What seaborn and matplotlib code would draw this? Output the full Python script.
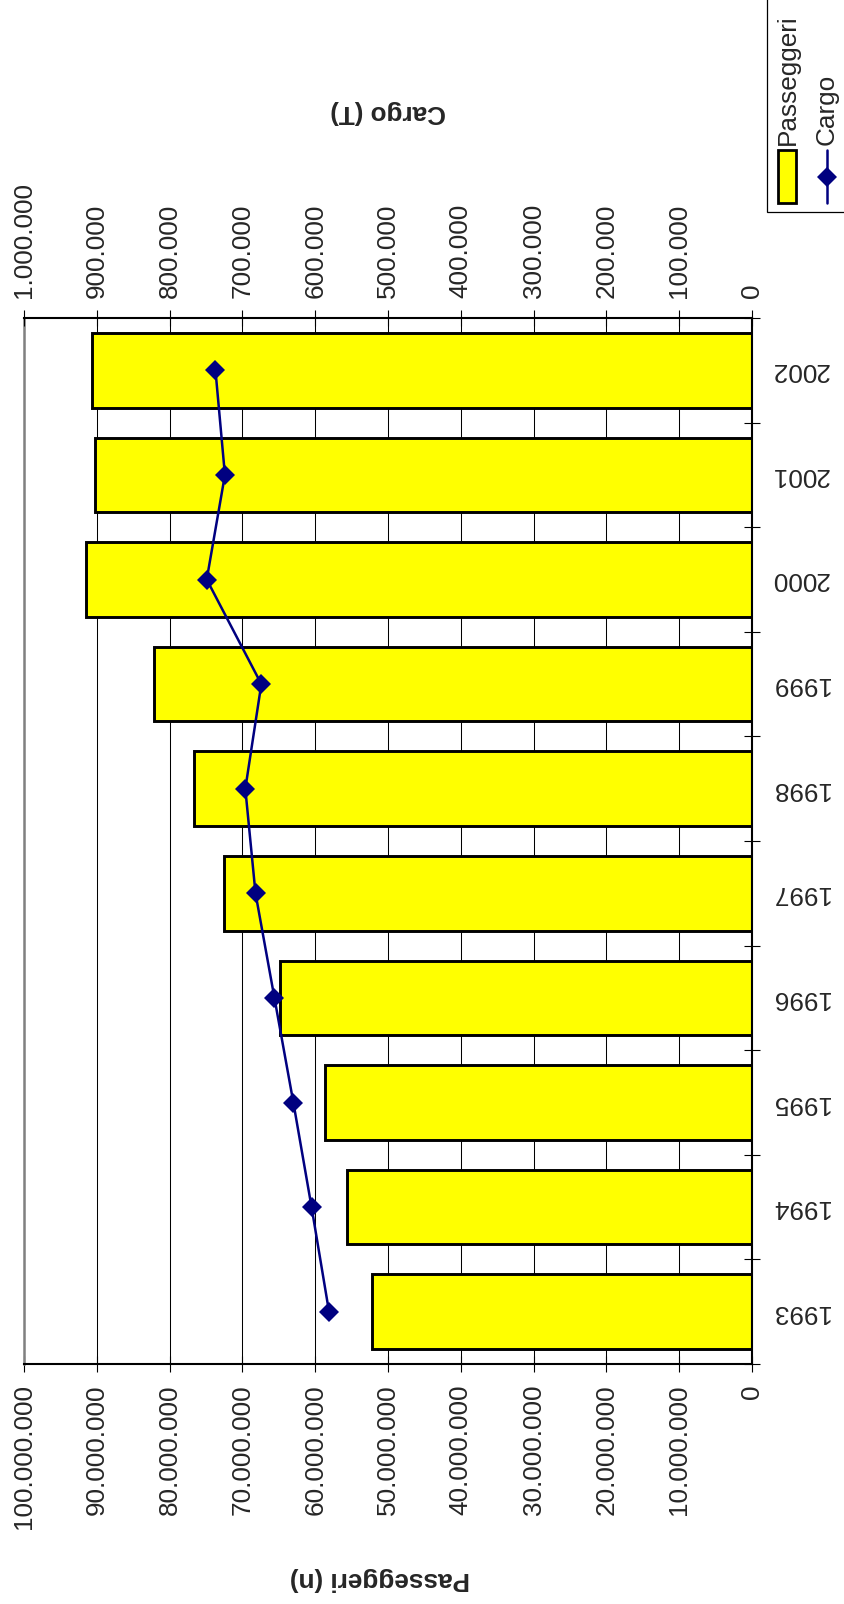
import matplotlib.pyplot as plt
import matplotlib.ticker as ticker
import numpy as np
import seaborn as sns
from matplotlib.patches import Rectangle

# values
years = ['1993', '1994', '1995', '1996', '1997', '1998', '1999', '2000', '2001', '2002']
passeggeri = [52.2e6, 55.6e6, 58.6e6, 64.8e6, 72.5e6, 76.6e6, 82.2e6, 91.5e6, 90.3e6, 90.7e6]
cargo = [581e3, 605e3, 630e3, 656e3, 682e3, 696e3, 674e3, 749e3, 724e3, 737e3]
pass_ticks = np.arange(0, 100e6 + 1, 10e6)
cargo_ticks = np.arange(0, 1e6 + 1, 100e3)

sns.set_style('white')
plt.rcParams['font.family'] = ['Liberation Sans', 'DejaVu Sans']
FS = 18.8
YELLOW = '#FFFF00'
NAVY = '#000080'


def dotted(v, pos):
    return f'{int(round(v)):,}'.replace(',', '.')


fig = plt.figure(figsize=(8.45, 16.04), dpi=100)
ax = fig.add_axes([24 / 845, 240 / 1604, 728 / 845, 1046 / 1604])

# 2002 on top, 1993 at the bottom
order = years[::-1]
sns.barplot(x=passeggeri, y=years, order=order, orient='h', color=YELLOW,
            saturation=1, edgecolor='black', linewidth=2.1, width=0.714, ax=ax)

ax.set_xlim(100e6, 0)
ax.set_ylim(9.5, -0.5)
ax.set_xticks(pass_ticks)
ax.xaxis.set_major_formatter(ticker.FuncFormatter(dotted))
ax.tick_params(axis='x', direction='inout', length=11.5, width=0.8, color='black',
               pad=9, labelsize=FS, labelrotation=90, bottom=True)
ax.grid(axis='x', color='black', linewidth=0.75)
ax.grid(axis='y', visible=False)
ax.set_axisbelow(True)

ax.yaxis.tick_right()
ax.set_yticks(range(len(order)), labels=order)
ax.set_yticks(np.arange(-0.5, len(order), 1), minor=True)
ax.tick_params(axis='y', which='major', length=0, pad=13.5, labelsize=FS, labelrotation=180)
ax.tick_params(axis='y', which='minor', direction='inout', length=12, width=0.8, color='black')
for t in ax.get_yticklabels():
    t.set_va('center')

ax.spines['left'].set_color('#808080')
ax.spines['left'].set_linewidth(1.8)
ax.spines['right'].set_color('black')
ax.spines['right'].set_linewidth(1.5)
ax.spines['bottom'].set_color('black')
ax.spines['bottom'].set_linewidth(1.5)
ax.spines['top'].set_visible(False)

ax.set_ylabel('')
ax.set_xlabel('Passeggeri (n)', fontsize=FS, fontweight='bold', rotation=180,
              va='center', ha='center')
ax.xaxis.set_label_coords(0.489, -0.206)

# cargo on the second value axis (top)
ax2 = ax.twiny()
pos = [order.index(y) for y in years]
sns.lineplot(x=cargo, y=pos, sort=False, orient='y', color=NAVY, linewidth=1.8,
             marker='D', markersize=10, markeredgewidth=0, ax=ax2)
ax2.set_xlim(1e6, 0)
ax2.set_ylim(9.5, -0.5)
ax2.set_xticks(cargo_ticks)
ax2.xaxis.set_major_formatter(ticker.FuncFormatter(dotted))
ax2.tick_params(axis='x', direction='inout', length=11.5, width=0.8, color='black',
                pad=9, labelsize=FS, labelrotation=90, top=True)
for s in ['left', 'right', 'bottom']:
    ax2.spines[s].set_visible(False)
ax2.spines['top'].set_color('black')
ax2.spines['top'].set_linewidth(1.5)
ax2.set_xlabel('Cargo (T)', fontsize=FS, fontweight='bold', rotation=180,
               va='center', ha='center')
ax2.xaxis.set_label_coords(0.5, 1.197)
ax2.set_ylabel('')

# legend, drawn sideways like the rest of the chart
lax = fig.add_axes([0, 0, 1, 1], zorder=5)
lax.set_xlim(0, 845)
lax.set_ylim(1604, 0)
lax.axis('off')
lax.add_patch(Rectangle((767, -3), 90, 215, fill=False, edgecolor='black', linewidth=0.9))
lax.add_patch(Rectangle((778, 150), 18, 53, facecolor=YELLOW, edgecolor='black', linewidth=2))
lax.plot([827, 827], [150, 203], color=NAVY, linewidth=1.8)
lax.plot([827], [177], marker='D', markersize=10, color=NAVY, markeredgewidth=0)
lax.text(788, 145, 'Passeggeri', rotation=90, ha='center', va='bottom', fontsize=FS)
lax.text(827, 145, 'Cargo', rotation=90, ha='center', va='bottom', fontsize=FS)

fig.savefig('out.png', dpi=100)
